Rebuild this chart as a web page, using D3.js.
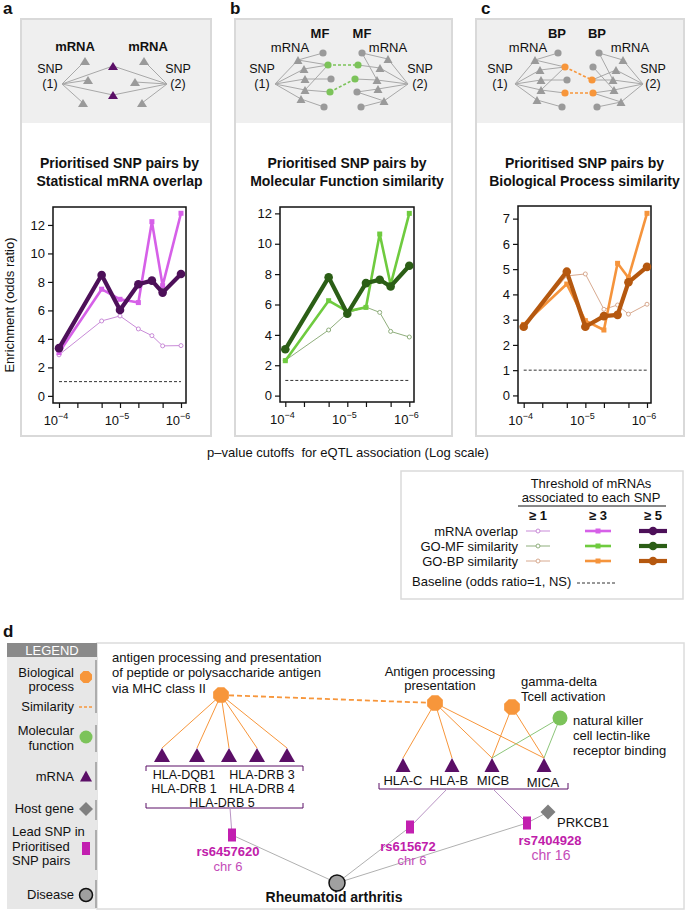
<!DOCTYPE html>
<html><head><meta charset="utf-8">
<script src="https://cdn.jsdelivr.net/npm/d3@7"></script>
<style>
body{margin:0;background:#fff}
svg{display:block}
text{font-family:"Liberation Sans",Arial,Helvetica,sans-serif;fill:#111}
</style></head>
<body><svg id="c" width="685" height="912"></svg>
<script>
// ---------------- DATA ----------------
const pCutoffs = [1e-4, 2e-5, 1e-5, 5e-6, 3e-6, 2e-6, 1e-6];
const xTickValues = [1e-4, 5e-5, 2e-5, 1e-5, 5e-6, 2e-6, 1e-6];
const xLabelExps = [-4, -5, -6];
const thresholds = ["\u2265 1", "\u2265 3", "\u2265 5"];

const mrnaGe1 = [2.88, 5.26, 5.61, 4.70, 4.23, 3.51, 3.53];
const mrnaGe3 = [3.04, 7.49, 6.78, 6.55, 12.23, 7.74, 12.82];
const mrnaGe5 = [3.35, 8.49, 6.03, 7.84, 8.09, 7.25, 8.56];

const mfGe1 = [2.32, 4.32, 5.44, 5.83, 5.48, 4.23, 3.86];
const mfGe3 = [2.30, 6.25, 5.55, 5.81, 10.64, 7.30, 12.00];
const mfGe5 = [3.05, 7.79, 5.39, 7.41, 7.63, 7.19, 8.55];

const bpGe1 = [2.75, 4.73, 4.81, 3.41, 3.58, 3.22, 3.61];
const bpGe3 = [2.81, 4.41, 2.96, 2.59, 5.23, 4.66, 7.21];
const bpGe5 = [2.72, 4.90, 2.72, 3.14, 3.19, 4.48, 5.09];

const baselineValue = 1;
const yTicksAB = [0, 2, 4, 6, 8, 10, 12];
const yTicksC = [0, 1, 2, 3, 4, 5, 6, 7];

const legendRows = ["mRNA overlap", "GO-MF similarity", "GO-BP similarity"];

// ---------------- STYLE / LAYOUT ----------------
const COL = {
  mrna: ["#c98bd8", "#d660e8", "#4d1059"],
  mf: ["#8fae7c", "#6fcb3f", "#2b5e16"],
  bp: ["#d8aa90", "#f5943c", "#b5580f"]
};
const svg = d3.select("#c");
const F = '"Liberation Sans",Arial,Helvetica,sans-serif';

function txt(g, x, y, s, o = {}) {
  const t = g.append("text").attr("x", x).attr("y", y).text(s)
    .attr("font-size", o.size || 13)
    .attr("text-anchor", o.anchor || "start")
    .attr("font-weight", o.bold ? "bold" : "normal");
  if (o.fill) t.style("fill", o.fill);
  return t;
}
function triangle(g, x, y, w, h, fill) {
  g.append("path").attr("d", `M${x},${y - h / 2}L${x + w / 2},${y + h / 2}L${x - w / 2},${y + h / 2}Z`).attr("fill", fill);
}
function octagon(g, x, y, r, fill) {
  const pts = d3.range(8).map(i => {
    const a = Math.PI / 8 + i * Math.PI / 4;
    return [x + r * Math.cos(a), y + r * Math.sin(a)];
  });
  g.append("path").attr("d", "M" + pts.join("L") + "Z").attr("fill", fill);
}
function line(g, a, b, stroke, w = 1, dash = null) {
  const l = g.append("line").attr("x1", a[0]).attr("y1", a[1]).attr("x2", b[0]).attr("y2", b[1])
    .attr("stroke", stroke).attr("stroke-width", w);
  if (dash) l.attr("stroke-dasharray", dash);
}

// ---------------- PANEL BOXES ----------------
const panels = [
  { key: "a", box: [21, 19, 211, 436], plot: [53, 207, 186, 403], xr: [59, 181], yd: [-0.5, 13.26], yt: yTicksAB,
    title: ["Prioritised SNP pairs by", "Statistical mRNA overlap"], colors: COL.mrna, series: [mrnaGe1, mrnaGe3, mrnaGe5], labelX: 3 },
  { key: "b", box: [235, 19, 452, 436], plot: [280, 207, 414, 402], xr: [285.3, 409.3], yd: [-0.42, 12.42], yt: yTicksAB,
    title: ["Prioritised SNP pairs by", "Molecular Function similarity"], colors: COL.mf, series: [mfGe1, mfGe3, mfGe5], labelX: 230 },
  { key: "c", box: [476, 19, 684, 436], plot: [518, 206, 651, 403], xr: [523.7, 647], yd: [-0.3, 7.5], yt: yTicksC,
    title: ["Prioritised SNP pairs by", "Biological Process similarity"], colors: COL.bp, series: [bpGe1, bpGe3, bpGe5], labelX: 481 }
];

panels.forEach(p => {
  const g = svg.append("g");
  const [x0, y0, x1, y1] = p.box;
  g.append("rect").attr("x", x0).attr("y", y0).attr("width", x1 - x0).attr("height", y1 - y0)
    .attr("fill", "#fff").attr("stroke", "#d9d9d9").attr("stroke-width", 2);
  g.append("rect").attr("x", x0 + 1).attr("y", y0 + 1).attr("width", x1 - x0 - 2).attr("height", 123 - y0 - 1)
    .attr("fill", "#efefef");
  txt(svg, p.labelX, 14, p.key, { size: 17, bold: true });
  const cx = (p.plot[0] + p.plot[2]) / 2;
  txt(g, cx, 168, p.title[0], { size: 14, bold: true, anchor: "middle" });
  txt(g, cx, 186, p.title[1], { size: 14, bold: true, anchor: "middle" });

  // scales
  const x = d3.scaleLog().domain([1e-4, 1e-6]).range(p.xr);
  const y = d3.scaleLinear().domain(p.yd).range([p.plot[3], p.plot[1]]);

  // axes
  const ax = g.append("g").attr("transform", `translate(0,${p.plot[3]})`)
    .call(d3.axisBottom(x).tickValues(xTickValues).tickSize(5).tickFormat(""));
  ax.select(".domain").remove();
  ax.selectAll("line").attr("stroke", "#111").attr("stroke-width", 1.2);
  xLabelExps.forEach(e => {
    const t = g.append("text").attr("x", x(Math.pow(10, e)) - 3).attr("y", p.plot[3] + 22)
      .attr("text-anchor", "middle").attr("font-size", 13);
    t.append("tspan").text("10");
    t.append("tspan").attr("dy", -6).attr("font-size", 9).text("\u2212" + (-e));
  });
  const ay = g.append("g").attr("transform", `translate(${p.plot[0]},0)`)
    .call(d3.axisLeft(y).tickValues(p.yt).tickSize(5).tickPadding(3));
  ay.select(".domain").remove();
  ay.selectAll("line").attr("stroke", "#111").attr("stroke-width", 1.2);
  ay.selectAll("text").attr("font-size", 13).attr("font-family", F).style("fill", "#111");

  // frame
  g.append("rect").attr("x", p.plot[0]).attr("y", p.plot[1]).attr("width", p.plot[2] - p.plot[0])
    .attr("height", p.plot[3] - p.plot[1]).attr("fill", "none").attr("stroke", "#111").attr("stroke-width", 1.5);

  // baseline
  g.append("line").attr("x1", x(1e-4)).attr("x2", x(1e-6)).attr("y1", y(baselineValue)).attr("y2", y(baselineValue))
    .attr("stroke", "#333").attr("stroke-width", 1).attr("stroke-dasharray", "3,2");

  const widths = [1, 2.6, 4.2];
  p.series.forEach((vals, i) => {
    const data = pCutoffs.map((pv, j) => [pv, vals[j]]);
    const ln = d3.line().x(d => x(d[0])).y(d => y(d[1]));
    g.append("path").attr("d", ln(data)).attr("fill", "none").attr("stroke", p.colors[i])
      .attr("stroke-width", widths[i]).attr("stroke-linejoin", "round");
    if (i === 0) {
      g.selectAll(null).data(data).enter().append("circle").attr("cx", d => x(d[0])).attr("cy", d => y(d[1]))
        .attr("r", 2).attr("fill", "#fff").attr("stroke", p.colors[i]).attr("stroke-width", 1);
    } else if (i === 1) {
      g.selectAll(null).data(data).enter().append("rect").attr("x", d => x(d[0]) - 2.5).attr("y", d => y(d[1]) - 2.5)
        .attr("width", 5).attr("height", 5).attr("fill", p.colors[i]);
    } else {
      g.selectAll(null).data(data).enter().append("circle").attr("cx", d => x(d[0])).attr("cy", d => y(d[1]))
        .attr("r", 4.3).attr("fill", p.colors[i]);
    }
  });
});

// y label & x label
txt(svg, 0, 0, "Enrichment (odds ratio)", { size: 13, anchor: "middle" }).attr("transform", "translate(14,305) rotate(-90)");
txt(svg, 348, 457, "p\u2013value cutoffs  for eQTL association (Log scale)", { size: 13, anchor: "middle" }).style("white-space", "pre");

// ---------------- SCHEMATICS ----------------
const GR = "#9a9a9a", LN = "#a8a8a8", PUR = "#5b0f67", GRN = "#7cc35a", ORG = "#f7963b";
(function schemA() {
  const g = svg.append("g");
  const s1 = [62, 84], s2 = [167, 84];
  const L = [[85, 61], [88, 80], [83, 103]], R = [[144, 61], [135, 82], [142, 103]], S = [[113, 66], [113, 95]];
  L.concat(S).forEach(t => line(g, s1, t, LN, 1));
  R.concat(S).forEach(t => line(g, s2, t, LN, 1));
  L.concat(R).forEach(t => triangle(g, t[0], t[1], 10, 8, GR));
  S.forEach(t => triangle(g, t[0], t[1], 10, 8, PUR));
  txt(g, 75, 51, "mRNA", { bold: true, anchor: "middle" });
  txt(g, 148, 51, "mRNA", { bold: true, anchor: "middle" });
  txt(g, 50, 73, "SNP", { size: 12.5, anchor: "middle" }); txt(g, 50, 88, "(1)", { size: 12.5, anchor: "middle" });
  txt(g, 178, 73, "SNP", { size: 12.5, anchor: "middle" }); txt(g, 178, 88, "(2)", { size: 12.5, anchor: "middle" });
})();

function schemBC(o) {
  const g = svg.append("g");
  o.LT.forEach(t => line(g, o.s1, t, LN, 1));
  o.RT.forEach(t => line(g, o.s2, t, LN, 1));
  o.le.forEach(([a, b]) => line(g, o.LT[a], o.LC[b], LN, 1));
  o.re.forEach(([a, b]) => line(g, o.RT[a], o.RC[b], LN, 1));
  o.dash.forEach(([a, b]) => line(g, o.LC[a], o.RC[b], o.col, 1.6, "3,2"));
  o.LT.concat(o.RT).forEach(t => triangle(g, t[0], t[1], 9, 8, GR));
  o.LC.concat(o.RC).forEach(c => g.append("circle").attr("cx", c[0]).attr("cy", c[1]).attr("r", 3.6)
    .attr("fill", c[2] ? o.col : GR));
  txt(g, o.lab[0], 38, o.term, { bold: true, anchor: "middle" });
  txt(g, o.lab[1], 38, o.term, { bold: true, anchor: "middle" });
  txt(g, o.mr[0], 52, "mRNA", { anchor: "middle" });
  txt(g, o.mr[1], 52, "mRNA", { anchor: "middle" });
  txt(g, o.sn[0], 73, "SNP", { size: 12.5, anchor: "middle" }); txt(g, o.sn[0], 88, "(1)", { size: 12.5, anchor: "middle" });
  txt(g, o.sn[1], 73, "SNP", { size: 12.5, anchor: "middle" }); txt(g, o.sn[1], 88, "(2)", { size: 12.5, anchor: "middle" });
}
schemBC({
  s1: [275, 84], s2: [408, 84], col: GRN, term: "MF", lab: [320, 362], mr: [290, 388], sn: [262, 420],
  LT: [[298, 60], [304, 69], [305, 79], [305, 90], [301, 99]],
  LC: [[323, 53, 0], [328, 65, 1], [331, 79, 0], [330, 92, 1], [324, 107, 0]],
  RC: [[362, 53, 0], [358, 65, 1], [355, 79, 1], [357, 92, 0], [361, 107, 0]],
  RT: [[388, 59], [380, 68], [377, 80], [378, 89], [384, 101]],
  le: [[0, 0], [1, 1], [2, 2], [3, 3], [4, 4], [3, 1], [0, 1]],
  re: [[0, 0], [1, 1], [2, 2], [3, 3], [4, 4], [2, 0], [4, 3]],
  dash: [[1, 1], [3, 2]]
});
schemBC({
  s1: [515, 84], s2: [643, 84], col: ORG, term: "BP", lab: [557, 597], mr: [528, 630], sn: [500, 653],
  LT: [[535, 60], [540, 70], [541, 80], [541, 90], [537, 100]],
  LC: [[558, 53, 0], [565, 67, 1], [567, 80, 0], [565, 93, 1], [562, 107, 0]],
  RC: [[599, 53, 0], [593, 67, 0], [592, 80, 1], [593, 93, 1], [597, 107, 0]],
  RT: [[623, 60], [616, 70], [613, 80], [614, 90], [621, 102]],
  le: [[0, 0], [1, 1], [2, 2], [3, 3], [4, 4], [3, 1], [0, 1]],
  re: [[0, 0], [1, 2], [2, 2], [3, 3], [4, 4], [2, 0], [3, 1], [4, 3]],
  dash: [[1, 2], [3, 3]]
});

// ---------------- LEGEND (a-c) ----------------
(function legend() {
  const g = svg.append("g");
  g.append("rect").attr("x", 401).attr("y", 471).attr("width", 282).attr("height", 128)
    .attr("fill", "#fff").attr("stroke", "#dadada").attr("stroke-width", 1.5);
  txt(g, 591, 488, "Threshold of mRNAs", { anchor: "middle" });
  txt(g, 591, 502, "associated to each SNP", { anchor: "middle" });
  line(g, [518, 506], [666, 506], "#111", 1);
  const cx = [538, 598, 653];
  thresholds.forEach((t, i) => txt(g, cx[i], 520, t, { bold: true, anchor: "middle" }));
  const keys = ["mrna", "mf", "bp"], ys = [531, 546, 561];
  const hw = [12, 13, 14];
  legendRows.forEach((r, j) => {
    txt(g, 518, ys[j] + 4.5, r, { anchor: "end" });
    COL[keys[j]].forEach((c, i) => {
      line(g, [cx[i] - hw[i], ys[j]], [cx[i] + hw[i], ys[j]], c, [1, 2.6, 4.2][i]);
      if (i === 0) g.append("circle").attr("cx", cx[i]).attr("cy", ys[j]).attr("r", 2).attr("fill", "#fff").attr("stroke", c);
      else if (i === 1) g.append("rect").attr("x", cx[i] - 2.5).attr("y", ys[j] - 2.5).attr("width", 5).attr("height", 5).attr("fill", c);
      else g.append("circle").attr("cx", cx[i]).attr("cy", ys[j]).attr("r", 4.3).attr("fill", c);
    });
  });
  txt(g, 412, 586, "Baseline (odds ratio=1, NS)");
  line(g, [577, 583], [615, 583], "#333", 1, "3,2");
})();

// ---------------- PANEL d ----------------
(function panelD() {
  const g = svg.append("g");
  txt(svg, 3, 637, "d", { size: 17, bold: true });
  g.append("rect").attr("x", 97).attr("y", 643).attr("width", 587).attr("height", 266)
    .attr("fill", "#fff").attr("stroke", "#dcdcdc").attr("stroke-width", 1.5);
  g.append("rect").attr("x", 7).attr("y", 643).attr("width", 90).attr("height", 14).attr("fill", "#8a8a8a");
  txt(g, 52, 655, "LEGEND", { anchor: "middle", fill: "#fff" });
  g.append("rect").attr("x", 7).attr("y", 657).attr("width", 90).attr("height", 252).attr("fill", "#e7e7e7");
  [[660, 713], [725, 752], [762, 790], [800, 820], [830, 870], [880, 908]].forEach(([a, b]) =>
    line(g, [96, a], [96, b], "#9a9a9a", 1.5));
  // legend items
  txt(g, 74, 677, "Biological", { anchor: "end" }); txt(g, 74, 691, "process", { anchor: "end" });
  octagon(g, 86, 677, 6.5, ORG);
  txt(g, 74, 711, "Similarity", { anchor: "end" });
  line(g, [79, 707], [92, 707], ORG, 1.5, "3,2");
  txt(g, 74, 735, "Molecular", { anchor: "end" }); txt(g, 74, 750, "function", { anchor: "end" });
  g.append("circle").attr("cx", 86).attr("cy", 737).attr("r", 6.5).attr("fill", GRN);
  txt(g, 74, 781, "mRNA", { anchor: "end" });
  triangle(g, 86, 776, 12, 11, PUR);
  txt(g, 74, 813, "Host gene", { anchor: "end" });
  g.append("path").attr("d", "M86,802L93,809L86,816L79,809Z").attr("fill", "#808080");
  txt(g, 12, 836, "Lead SNP in"); txt(g, 12, 851, "Prioritised"); txt(g, 12, 865, "SNP pairs");
  g.append("rect").attr("x", 82).attr("y", 842).attr("width", 8).attr("height", 13).attr("fill", "#c21fb0");
  txt(g, 74, 899, "Disease", { anchor: "end" });
  g.append("circle").attr("cx", 86).attr("cy", 895).attr("r", 6.5).attr("fill", "#a0a0a0").attr("stroke", "#111").attr("stroke-width", 1.5);

  // network
  const BP1 = [221, 695], BP2 = [435, 703], BP3 = [512, 707], MF = [560, 718];
  const g1 = [162, 197, 229, 257, 287].map(x => [x, 755]);
  const g2 = { "HLA-C": [403, 765], "HLA-B": [452, 765], "MICB": [492, 765], "MICA": [544, 765] };
  const apex = (p, h) => [p[0], p[1] - h / 2];
  const SNPa = [232, 835], SNPb = [410, 827], SNPc = [527, 823], DIS = [337, 883], HOST = [548, 812];
  const SL = "#b994c4", GL = "#b0b0b0";

  line(g, BP1, BP2, ORG, 1.8, "5,3");
  g1.forEach(t => line(g, BP1, apex(t, 14), ORG, 1));
  ["HLA-C", "HLA-B", "MICB", "MICA"].forEach(k => line(g, BP2, apex(g2[k], 14), ORG, 1));
  ["MICB", "MICA"].forEach(k => line(g, BP3, apex(g2[k], 14), ORG, 1));
  ["MICB", "MICA"].forEach(k => line(g, MF, apex(g2[k], 14), "#8cc579", 1));

  // brackets
  const bp = d3.path();
  bp.moveTo(146, 771); bp.lineTo(146, 766); bp.lineTo(303, 766); bp.lineTo(303, 771);
  bp.moveTo(146, 803); bp.lineTo(146, 808); bp.lineTo(303, 808); bp.lineTo(303, 803);
  bp.moveTo(379, 783); bp.lineTo(379, 789); bp.lineTo(568, 789); bp.lineTo(568, 783);
  g.append("path").attr("d", bp.toString()).attr("fill", "none").attr("stroke", PUR).attr("stroke-width", 1);

  line(g, [230, 808], SNPa, SL, 1);
  line(g, [447, 789], SNPb, SL, 1);
  line(g, [493, 789], SNPc, SL, 1);
  [SNPa, SNPb, SNPc].forEach(s => line(g, s, DIS, GL, 1));
  line(g, SNPc, HOST, GL, 1);

  octagon(g, BP1[0], BP1[1], 8.5, ORG);
  octagon(g, BP2[0], BP2[1], 8.5, ORG);
  octagon(g, BP3[0], BP3[1], 8.5, ORG);
  g.append("circle").attr("cx", MF[0]).attr("cy", MF[1]).attr("r", 7.5).attr("fill", GRN);
  g1.forEach(t => triangle(g, t[0], t[1], 16, 14, PUR));
  Object.values(g2).forEach(t => triangle(g, t[0], t[1], 15, 14, PUR));
  [SNPa, SNPb, SNPc].forEach(s => g.append("rect").attr("x", s[0] - 4).attr("y", s[1] - 6.5)
    .attr("width", 8).attr("height", 13).attr("fill", "#c21fb0"));
  g.append("path").attr("d", `M${HOST[0]},${HOST[1] - 7.5}L${HOST[0] + 7.5},${HOST[1]}L${HOST[0]},${HOST[1] + 7.5}L${HOST[0] - 7.5},${HOST[1]}Z`).attr("fill", "#808080");
  g.append("circle").attr("cx", DIS[0]).attr("cy", DIS[1]).attr("r", 8).attr("fill", "#a0a0a0").attr("stroke", "#111").attr("stroke-width", 1.5);

  // labels
  txt(g, 112, 662, "antigen processing and presentation");
  txt(g, 112, 677, "of peptide or polysaccharide antigen");
  txt(g, 112, 693, "via MHC class II");
  txt(g, 440, 676, "Antigen processing", { anchor: "middle" });
  txt(g, 440, 690, "presentation", { anchor: "middle" });
  txt(g, 521, 686, "gamma-delta");
  txt(g, 521, 701, "Tcell activation");
  txt(g, 573, 725, "natural killer");
  txt(g, 573, 740, "cell lectin-like");
  txt(g, 573, 755, "receptor binding");
  const hs = { size: 12.5, anchor: "middle" };
  txt(g, 184, 779, "HLA-DQB1", hs);
  txt(g, 262, 779, "HLA-DRB 3", hs);
  txt(g, 184, 793, "HLA-DRB 1", hs);
  txt(g, 262, 793, "HLA-DRB 4", hs);
  txt(g, 222, 806.5, "HLA-DRB 5", hs);
  txt(g, 403, 785, "HLA-C", { anchor: "middle" });
  txt(g, 449, 785, "HLA-B", { anchor: "middle" });
  txt(g, 493, 785, "MICB", { anchor: "middle" });
  txt(g, 543, 787, "MICA", { anchor: "middle" });
  txt(g, 557, 827, "PRKCB1");
  const MG = "#c020aa", MG2 = "#c44cb8";
  txt(g, 228, 856, "rs6457620", { bold: true, anchor: "middle", fill: MG });
  txt(g, 228, 871, "chr 6", { anchor: "middle", fill: MG2 });
  txt(g, 408, 851, "rs615672", { bold: true, anchor: "middle", fill: MG });
  txt(g, 412, 865, "chr 6", { anchor: "middle", fill: MG2 });
  txt(g, 550, 845, "rs7404928", { bold: true, anchor: "middle", fill: MG });
  txt(g, 551, 860, "chr 16", { size: 14, anchor: "middle", fill: MG2 });
  txt(g, 334, 902, "Rheumatoid arthritis", { size: 14, bold: true, anchor: "middle" });
})();
</script></body></html>
